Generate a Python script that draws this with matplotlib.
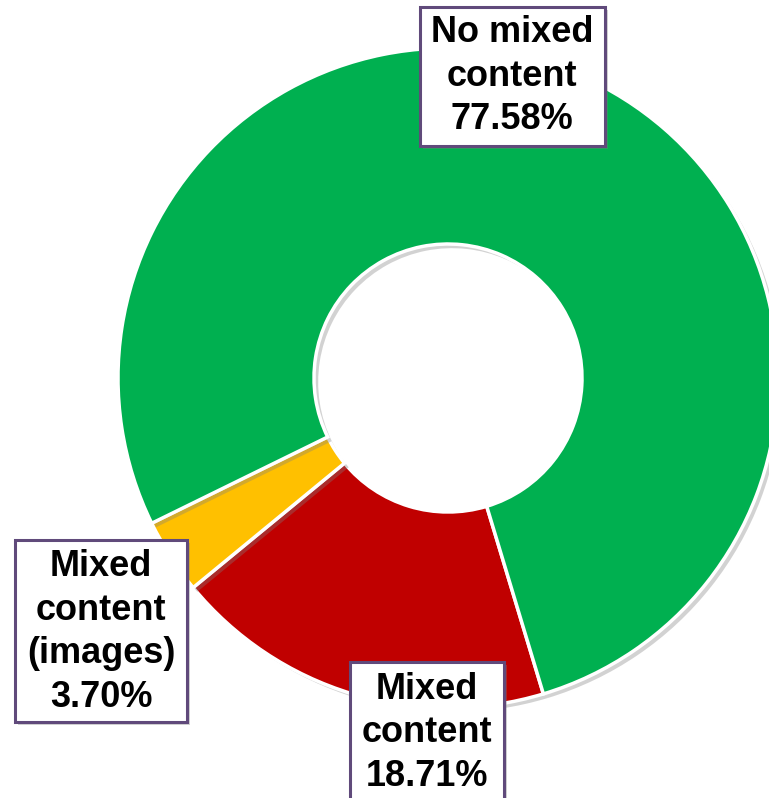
import matplotlib
matplotlib.use("Agg")
import matplotlib.pyplot as plt
from matplotlib.patches import Rectangle
import matplotlib.patheffects as pe

categories = ["Mixed\ncontent", "Mixed\ncontent\n(images)", "No mixed\ncontent"]
values = [18.71, 3.70, 77.58]
colors = ["#C00000", "#FFC000", "#00B050"]

W, H = 769, 798
fig = plt.figure(figsize=(W / 100, H / 100), dpi=100)
ax = fig.add_axes([0, 0, 1, 1])

cx, cy = 448, H - 378
R_out, R_in = 330, 134

wedges, _ = ax.pie(values, colors=colors, startangle=-73.2, counterclock=False,
                   center=(cx, cy), radius=R_out,
                   wedgeprops=dict(width=R_out - R_in, edgecolor="white", linewidth=2.5))
for w in wedges:
    w.set_path_effects([pe.SimplePatchShadow(offset=(3, -3), shadow_rgbFace="#808080", alpha=0.35),
                        pe.Normal()])

ax.set_xlim(0, W)
ax.set_ylim(0, H)
ax.set_aspect("equal")
ax.axis("off")

# label boxes (image coords: x0, y0_top, x1, y1_bottom)
boxes = [
    (350, 662, 504, 810),   # Mixed content
    (15, 540, 187, 722),    # images
    (420, 7, 605, 146),     # No mixed
]
text_centers = [(427, 733), (101, 632), (512, 76)]

for (cat, val), (x0, y0, x1, y1), (tx, ty) in zip(zip(categories, values), boxes, text_centers):
    rect = Rectangle((x0, H - y1), x1 - x0, y1 - y0, facecolor="white",
                     edgecolor="#604A7B", linewidth=2.2, zorder=5, clip_on=False)
    rect.set_path_effects([pe.SimplePatchShadow(offset=(2, -2), shadow_rgbFace="#808080", alpha=0.35),
                           pe.Normal()])
    ax.add_patch(rect)
    ax.text(tx, H - ty, f"{cat}\n{val:.2f}%", ha="center", va="center",
            fontsize=26, fontweight="bold", family="Liberation Sans",
            linespacing=1.33, zorder=6, color="black")

fig.savefig("out.png", dpi=100)
